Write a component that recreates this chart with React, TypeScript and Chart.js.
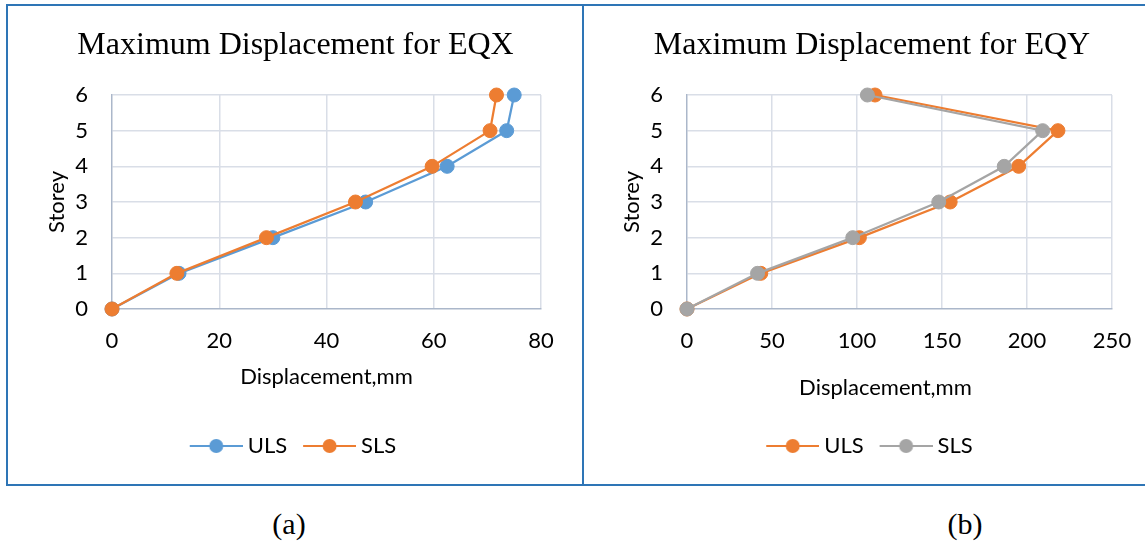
import React, { useEffect, useRef } from 'react';
import { Chart, registerables } from 'chart.js';

Chart.register(...registerables);

// ---- data ----
const storeys = [0, 1, 2, 3, 4, 5, 6];
const eqxUls = [0, 12.5, 30.0, 47.3, 62.5, 73.6, 75.0];
const eqxSls = [0, 12.1, 28.8, 45.4, 59.7, 70.5, 71.7];
const eqyUls = [0, 43.4, 101.4, 154.8, 195.1, 218.2, 110.6];
const eqySls = [0, 41.5, 97.5, 148.1, 186.6, 209.2, 106.1];
const seriesNames = ['ULS', 'SLS'];
const eqxRange = [0, 80, 20];
const eqyRange = [0, 250, 50];
const storeyRange = [0, 6, 1];
const titles = ['Maximum Displacement for EQX', 'Maximum Displacement for EQY'];
const xTitle = 'Displacement,mm';
const yTitle = 'Storey';
const captions = ['(a)', '(b)'];

// ---- styles ----
const BLUE = '#5B9BD5';
const ORANGE = '#ED7D31';
const GRAY = '#A5A5A5';
const GRID = '#D9DEE7';
const AXIS = '#ABB7CA';
const FRAME = '#2E75B6';
const SANS = 'Lato';
const SERIF = 'Liberation Serif';
const FS = 22;

function makeIcon(color: string): HTMLCanvasElement {
  const c = document.createElement('canvas');
  c.width = 54;
  c.height = 16;
  const g = c.getContext('2d')!;
  g.strokeStyle = color;
  g.lineWidth = 2;
  g.beginPath();
  g.moveTo(1, 8);
  g.lineTo(54, 8);
  g.stroke();
  g.fillStyle = color;
  g.beginPath();
  g.arc(27.5, 8, 7, 0, Math.PI * 2);
  g.fill();
  return c;
}

type PanelProps = {
  title: string;
  uls: number[];
  sls: number[];
  colors: string[];
  range: number[];
  left: number;
  width: number;
  plotWidth: number;
  padLeft: number;
  yWidth: number;
  yTitlePad: number;
  xTitlePad: number;
  xTitleText: string;
};

function Panel(p: PanelProps) {
  const ref = useRef<HTMLCanvasElement | null>(null);
  useEffect(() => {
    if (!ref.current) return;
    const tickFont = { family: SANS, size: FS };
    const icons = p.colors.map(makeIcon);
    const mk = (vals: number[], color: string, label: string, order: number) => ({
      label,
      data: storeys.map((s, i) => ({ x: vals[i], y: s })),
      borderColor: color,
      backgroundColor: color,
      pointBackgroundColor: color,
      pointBorderColor: color,
      pointBorderWidth: 1,
      pointRadius: 7,
      pointHoverRadius: 7,
      borderWidth: 2.25,
      tension: 0,
      clip: false as any,
      order,
    });
    const gridColor = (ctx: any) => (ctx.tick && ctx.tick.value === 0 ? 'rgba(0,0,0,0)' : GRID);
    const chart = new Chart(ref.current, {
      type: 'line',
      data: {
        datasets: [
          mk(p.uls, p.colors[0], seriesNames[0], 1),
          mk(p.sls, p.colors[1], seriesNames[1], 0),
        ],
      },
      options: {
        responsive: false,
        maintainAspectRatio: false,
        animation: false,
        layout: {
          padding: {
            left: p.padLeft,
            right: p.width - (p.padLeft + p.yWidth) - p.plotWidth,
            top: 0,
            bottom: 17,
          },
        },
        plugins: {
          title: {
            display: true,
            text: p.title,
            color: '#000',
            font: { family: SERIF, size: 32, weight: 'normal' },
            padding: { top: 20, bottom: 30.6 },
          },
          legend: {
            position: 'bottom',
            labels: {
              usePointStyle: true,
              pointStyleWidth: 42,
              padding: 21,
              color: '#000',
              font: { family: SANS, size: FS },
              generateLabels: () =>
                seriesNames.map((n, i) => ({
                  text: n,
                  fillStyle: p.colors[i],
                  strokeStyle: p.colors[i],
                  lineWidth: 0,
                  pointStyle: icons[i] as any,
                  hidden: false,
                  datasetIndex: i,
                })),
            },
          },
          tooltip: { enabled: false },
        },
        scales: {
          x: {
            type: 'linear',
            min: p.range[0],
            max: p.range[1],
            ticks: { stepSize: p.range[2], padding: 18.8, color: '#000', font: tickFont },
            grid: { color: gridColor, lineWidth: 1.5, drawTicks: false },
            border: { color: AXIS, width: 1.5 },
            title: {
              display: true,
              text: p.xTitleText,
              color: '#000',
              font: tickFont,
              padding: { top: 0, bottom: p.xTitlePad },
            },
            afterFit: (s: any) => {
              s.height = 105;
            },
          },
          y: {
            type: 'linear',
            min: storeyRange[0],
            max: storeyRange[1],
            ticks: { stepSize: storeyRange[2], padding: 24, color: '#000', font: tickFont },
            grid: { color: gridColor, lineWidth: 1.5, drawTicks: false },
            border: { color: AXIS, width: 1.5 },
            title: {
              display: true,
              text: yTitle,
              color: '#000',
              font: tickFont,
              padding: { top: p.yTitlePad, bottom: 0 },
            },
            afterFit: (s: any) => {
              s.width = p.yWidth;
            },
          },
        },
      } as any,
    });
    return () => chart.destroy();
  }, []);
  return (
    <canvas
      ref={ref}
      width={p.width}
      height={478}
      style={{ position: 'absolute', left: p.left, top: 6, width: p.width, height: 478, display: 'block' }}
    />
  );
}

const captionStyle = {
  position: 'absolute' as const,
  width: 100,
  top: 509,
  textAlign: 'center' as const,
  fontFamily: SERIF,
  fontSize: 30,
  lineHeight: '30px',
  color: '#000',
};

export default function App() {
  return (
    <div
      style={{
        position: 'fixed',
        left: 0,
        top: 0,
        width: 1145,
        height: 543,
        overflow: 'hidden',
        background: '#fff',
      }}
    >
      <div
        style={{
          position: 'absolute',
          left: 6,
          top: 4,
          width: 1200,
          height: 482,
          border: `2px solid ${FRAME}`,
          boxSizing: 'border-box',
        }}
      />
      <div style={{ position: 'absolute', left: 582, top: 4, width: 2, height: 482, background: FRAME }} />
      <Panel
        title={titles[0]}
        uls={eqxUls}
        sls={eqxSls}
        colors={[BLUE, ORANGE]}
        range={eqxRange}
        left={8}
        width={574}
        plotWidth={429}
        padLeft={42}
        yWidth={62}
        yTitlePad={-5.9}
        xTitlePad={23.8}
        xTitleText={xTitle}
      />
      <Panel
        title={titles[1]}
        uls={eqyUls}
        sls={eqySls}
        colors={[ORANGE, GRAY]}
        range={eqyRange}
        left={584}
        width={576}
        plotWidth={425}
        padLeft={48}
        yWidth={55}
        yTitlePad={-12.9}
        xTitlePad={12.8}
        xTitleText={xTitle + '     '}
      />
      <div style={{ ...captionStyle, left: 239 }}>{captions[0]}</div>
      <div style={{ ...captionStyle, left: 915 }}>{captions[1]}</div>
    </div>
  );
}
